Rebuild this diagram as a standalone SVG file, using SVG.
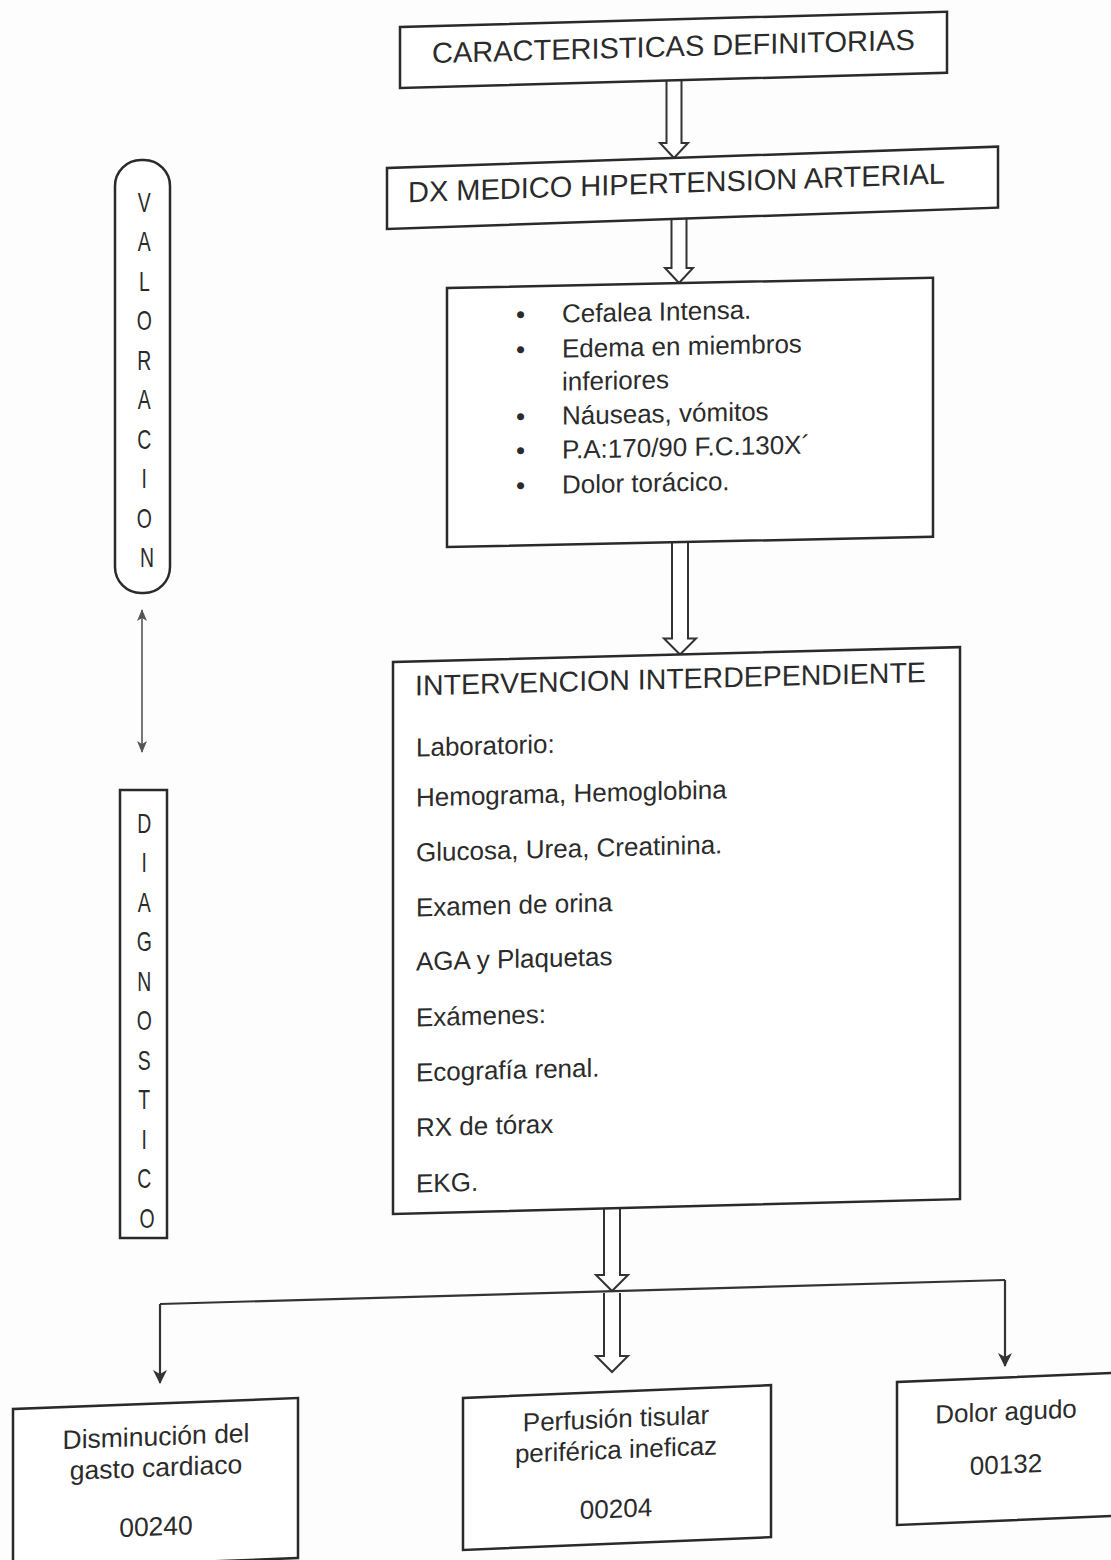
<svg xmlns="http://www.w3.org/2000/svg" width="1111" height="1560" viewBox="0 0 1111 1560">
  <defs>
    <style>
      .box{fill:#fff;stroke:#2a2a2a;stroke-width:2.5}
      .t{font-family:"Liberation Sans",Arial,sans-serif;fill:#2b2b2b}
      .big{font-size:29px}
      .mid{font-size:26px}
      .c{text-anchor:middle}
      .vl{font-size:27px;text-anchor:middle}
      .hol{fill:#fff;stroke:#333;stroke-width:2;stroke-linejoin:miter}
      .ln{fill:none;stroke:#333;stroke-width:2.2}
      .thin{fill:none;stroke:#555;stroke-width:1.6}
    </style>
    <marker id="tip" viewBox="0 0 14 14" refX="13" refY="7" markerWidth="14" markerHeight="14" markerUnits="userSpaceOnUse" orient="auto-start-reverse">
      <path d="M0,0 L14,7 L0,14 L4,7 z" fill="#333"/>
    </marker>
    <marker id="tipS" viewBox="0 0 12 10" refX="11" refY="5" markerWidth="12" markerHeight="10" markerUnits="userSpaceOnUse" orient="auto-start-reverse">
      <path d="M0,0 L12,5 L0,10 L3,5 z" fill="#555"/>
    </marker>
  </defs>

  <rect width="1111" height="1560" fill="#fdfdfd"/>

  <!-- connectors -->
  <g id="connectors">
    <path class="hol" d="M666.5,80 V143 H660 L674,158 L688,143 H681.5 V80"/>
    <path class="hol" d="M671.5,218 V268 H665 L679,283 L693,268 H686.5 V218"/>
    <path class="hol" d="M672,542 V638.5 H664 L680,654.5 L696,638.5 H688 V542"/>
    <path class="ln" d="M160,1304 L1005,1280"/>
    <path class="ln" d="M160,1304 V1383" marker-end="url(#tip)"/>
    <path class="ln" d="M1005,1280 V1366" marker-end="url(#tip)"/>
    <path class="hol" d="M604,1208 V1275 H596 L612,1291 L628,1275 H620 V1208"/>
    <path class="hol" d="M604,1293 V1356 H596 L612,1372 L628,1356 H620 V1293"/>
    <path class="thin" d="M142,610 V752" marker-start="url(#tipS)" marker-end="url(#tipS)"/>
  </g>

  <!-- side labels -->
  <g id="valoracion">
    <rect class="box" x="115" y="160" width="55" height="433" rx="26" ry="26" stroke-width="2"/>
    <text class="t vl" transform="translate(147 0) scale(0.72 1)">
      <tspan x="0" y="212">V</tspan>
      <tspan x="0" y="251.5">A</tspan>
      <tspan x="0" y="291">L</tspan>
      <tspan x="0" y="330.5">O</tspan>
      <tspan x="0" y="370">R</tspan>
      <tspan x="0" y="409.5">A</tspan>
      <tspan x="0" y="449">C</tspan>
      <tspan x="0" y="488.5">I</tspan>
      <tspan x="0" y="528">O</tspan>
      <tspan x="0" y="567.5">N</tspan>
    </text>
  </g>
  <g id="diagnostico">
    <rect class="box" x="120" y="790" width="47" height="448" stroke-width="2"/>
    <text class="t vl" transform="translate(147 0) scale(0.72 1)">
      <tspan x="0" y="833">D</tspan>
      <tspan x="0" y="872.5">I</tspan>
      <tspan x="0" y="912">A</tspan>
      <tspan x="0" y="951.5">G</tspan>
      <tspan x="0" y="991">N</tspan>
      <tspan x="0" y="1030.5">O</tspan>
      <tspan x="0" y="1070">S</tspan>
      <tspan x="0" y="1109.5">T</tspan>
      <tspan x="0" y="1149">I</tspan>
      <tspan x="0" y="1188.5">C</tspan>
      <tspan x="0" y="1228">O</tspan>
    </text>
  </g>

  <!-- flow nodes -->
  <g id="caracteristicas" transform="translate(400 27) skewY(-1.6)">
    <rect class="box" width="547" height="61"/>
    <text class="t big" x="32" y="37">CARACTERISTICAS DEFINITORIAS</text>
  </g>

  <g id="dx-medico" transform="translate(387 168) skewY(-2.0)">
    <rect class="box" width="611" height="61"/>
    <text class="t big" x="21" y="35">DX MEDICO HIPERTENSION ARTERIAL</text>
  </g>

  <g id="signos" transform="translate(447 288) skewY(-1.2)">
    <rect class="box" width="486" height="259"/>
    <g class="t mid">
      <text x="69" y="37">•</text>
      <text x="115" y="37">Cefalea Intensa.</text>
      <text x="69" y="72">•</text>
      <text x="115" y="72">Edema en miembros</text>
      <text x="115" y="105">inferiores</text>
      <text x="69" y="139">•</text>
      <text x="115" y="139">Náuseas, vómitos</text>
      <text x="69" y="173">•</text>
      <text x="115" y="173">P.A:170/90 F.C.130X´</text>
      <text x="69" y="208">•</text>
      <text x="115" y="208">Dolor torácico.</text>
    </g>
  </g>

  <g id="intervencion" transform="translate(393 662) skewY(-1.5)">
    <rect class="box" width="567" height="552"/>
    <text class="t" x="22" y="34" font-size="28.5">INTERVENCION INTERDEPENDIENTE</text>
    <g class="t mid">
      <text x="23" y="95">Laboratorio:</text>
      <text x="23" y="145">Hemograma, Hemoglobina</text>
      <text x="23" y="200">Glucosa, Urea, Creatinina.</text>
      <text x="23" y="255">Examen de orina</text>
      <text x="23" y="309">AGA y Plaquetas</text>
      <text x="23" y="365">Exámenes:</text>
      <text x="23" y="420">Ecografía renal.</text>
      <text x="23" y="475">RX de tórax</text>
      <text x="23" y="531">EKG.</text>
    </g>
  </g>

  <g id="dx-gasto" transform="translate(13 1409) skewY(-2.2)">
    <rect class="box" width="285" height="160"/>
    <g class="t c" font-size="26.5">
      <text x="143" y="42">Disminución del</text>
      <text x="143" y="73">gasto cardiaco</text>
      <text x="143" y="132">00240</text>
    </g>
  </g>

  <g id="dx-perfusion" transform="translate(463 1398) skewY(-2.4)">
    <rect class="box" width="308" height="152"/>
    <g class="t c mid">
      <text x="153" y="36">Perfusión tisular</text>
      <text x="153" y="67">periférica ineficaz</text>
      <text x="153" y="126">00204</text>
    </g>
  </g>

  <g id="dx-dolor" transform="translate(897 1382) skewY(-2.4)">
    <rect class="box" width="240" height="143"/>
    <g class="t c mid">
      <text x="109" y="43">Dolor agudo</text>
      <text x="109" y="96">00132</text>
    </g>
  </g>
</svg>
